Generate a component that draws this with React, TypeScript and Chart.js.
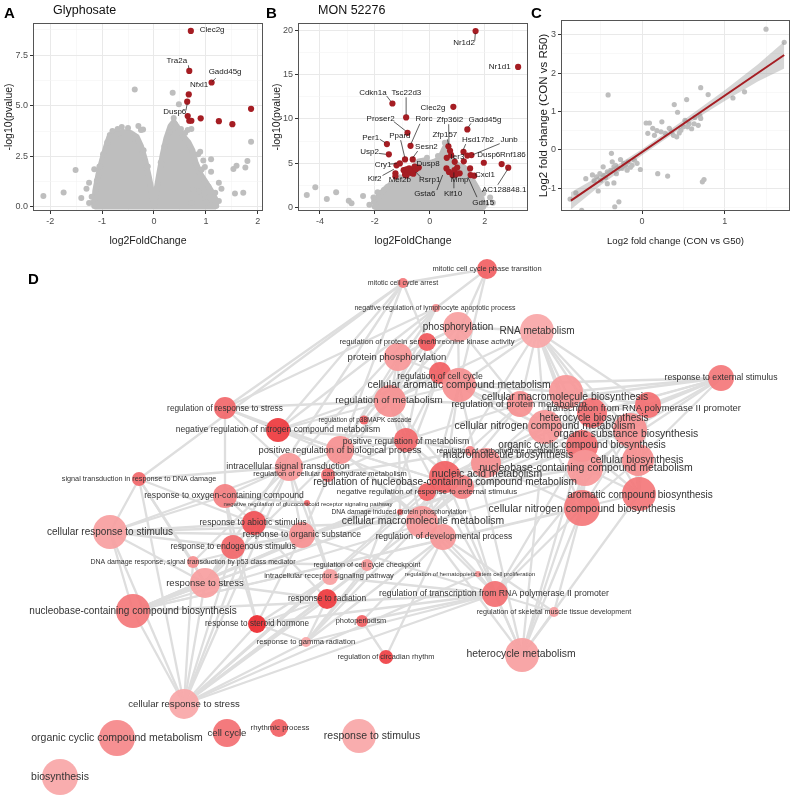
import React, { useEffect, useRef } from "react";
import { Chart, registerables } from "chart.js";

Chart.register(...registerables);

const FONT = "'Liberation Sans', Arial, Helvetica, sans-serif";
const GREY = "#bebebe";
const RED = "#a51d23";

type Pt = [number, number];
type Lbl = [string, number, number, number?, number?, number?, number?];

// ---------------- Panel A: Glyphosate volcano ----------------
const aXMajor = [-2, -1, 0, 1, 2];
const aXMinor = [-1.5, -0.5, 0.5, 1.5];
const aYMajor = [0, 2.5, 5, 7.5];
const aYMinor = [1.25, 3.75, 6.25, 8.75];
const aCloud: Pt[] = [
  [-1.15, 0.05], [-1.13, 0.8], [-1.07, 1.6], [-1.0, 2.3], [-0.93, 2.9], [-0.86, 3.45], [-0.75, 3.6],
  [-0.6, 3.7], [-0.45, 3.65], [-0.33, 3.45], [-0.25, 3.0], [-0.17, 2.3], [-0.1, 1.5], [-0.04, 0.7],
  [0, 0.1], [0.04, 0.7], [0.1, 1.6], [0.17, 2.6], [0.24, 3.4], [0.32, 4.0], [0.38, 4.2], [0.46, 3.9],
  [0.56, 3.5], [0.66, 3.2], [0.74, 2.8], [0.8, 2.2], [0.9, 1.6], [1.0, 1.2], [1.1, 0.8], [1.18, 0.4], [1.2, 0.05],
];
const aGrey: Pt[] = [
  [-0.37, 5.81], [0.36, 5.64], [0.48, 5.07], [-0.21, 3.83], [1.87, 3.22], [0.89, 2.73], [1.8, 2.27],
  [1.59, 2.04], [1.53, 1.88], [1.76, 1.95], [0.98, 1.97], [1.1, 1.74], [1.1, 2.36], [-1.51, 1.83],
  [-1.15, 1.86], [-2.13, 0.54], [-1.74, 0.72], [-1.4, 0.44], [-1.18, 0.21], [0.99, 0.4], [1.08, 0.61],
  [1.56, 0.67], [1.72, 0.7], [1.01, 0.22], [0.72, 0.2], [0.87, 0.78], [0.76, 0.85], [-0.85, 3.55],
  [-0.7, 3.85], [-0.5, 3.9], [-0.4, 3.4], [-0.25, 3.8], [0.38, 4.4], [0.4, 4.1], [0.3, 3.7], [0.65, 3.8],
  [0.72, 3.85], [-1.25, 1.2], [-1.3, 0.9], [1.25, 1.2], [1.3, 0.9], [0.95, 2.3], [-0.3, 4.0],
  [-1.2, 0.5], [-1.1, 1.3], [-1.05, 2.0], [-0.98, 2.6], [-0.9, 3.2], [-0.62, 3.95], [-0.2, 2.8],
  [-0.12, 2.0], [0.13, 2.2], [0.2, 3.0], [0.6, 3.65], [0.85, 2.6], [0.92, 1.85], [1.05, 1.0], [1.18, 0.7],
  [-0.8, 3.75], [0.52, 3.85], [1.25, 0.3], [-1.25, 0.2],
];
const aRed: Pt[] = [
  [0.71, 8.7], [0.68, 6.72], [1.11, 6.15], [0.67, 5.56], [0.64, 5.2], [0.65, 4.49], [0.68, 4.26],
  [0.72, 4.26], [0.9, 4.38], [1.25, 4.24], [1.51, 4.09], [1.87, 4.85],
];
const aLabels: Lbl[] = [
  ["Clec2g", 1.12, 8.76],
  ["Tra2a", 0.44, 7.2, 0.663, 7.0, 0.67, 6.85],
  ["Gadd45g", 1.37, 6.66, 1.19, 6.36, 1.12, 6.2],
  ["Nfxl1", 0.87, 6.02],
  ["Dusp6", 0.4, 4.69, 0.615, 4.76, 0.64, 5.1],
];

// ---------------- Panel B: MON 52276 volcano ----------------
const bXMajor = [-4, -2, 0, 2];
const bXMinor = [-3, -1, 1, 3];
const bYMajor = [0, 5, 10, 15, 20];
const bYMinor = [2.5, 7.5, 12.5, 17.5];
const bCloud: Pt[] = [
  [-2.0, 0.05], [-1.95, 0.8], [-1.8, 1.5], [-1.55, 2.3], [-1.25, 2.8], [-1.0, 3.2], [-0.75, 3.9],
  [-0.55, 4.6], [-0.4, 5.2], [-0.2, 5.3], [0, 5.0], [0.2, 5.2], [0.35, 5.4], [0.5, 6.4], [0.6, 7.0],
  [0.72, 6.4], [0.85, 5.3], [1.0, 4.8], [1.25, 4.5], [1.45, 3.6], [1.6, 2.8], [1.75, 2.0], [1.85, 1.3],
  [1.92, 0.6], [1.95, 0.05],
];
const bGrey: Pt[] = [
  [-4.48, 1.39], [-4.17, 2.26], [-3.75, 0.94], [-3.41, 1.69], [-2.95, 0.75], [-2.85, 0.45], [-2.43, 1.28],
  [-2.03, 0.64], [-1.67, 1.95], [-2.2, 0.3], [2.3, 0.5], [2.2, 1.1], [-0.1, 5.6], [0.55, 7.3],
  [-2.05, 1.1], [-1.9, 1.7], [-1.4, 2.7], [-1.1, 3.4], [2.05, 0.4], [1.95, 1.6], [0.3, 5.8],
];
const bRed: Pt[] = [
  [1.67, 19.95], [3.22, 15.89], [-1.36, 11.75], [-0.86, 10.17], [0.86, 11.37], [1.37, 8.81], [-0.81, 8.43],
  [-1.56, 7.15], [-0.7, 6.96], [0.68, 6.9], [0.74, 6.4], [0.78, 5.9], [0.62, 5.6], [1.23, 6.28], [1.52, 5.91],
  [1.37, 5.85], [-1.49, 5.99], [-0.9, 5.42], [-0.62, 5.42], [0.91, 5.15], [1.24, 5.2], [-1.09, 4.97],
  [-1.21, 4.75], [1.97, 5.04], [2.62, 4.89], [2.86, 4.48], [-1.25, 3.84], [-1.25, 3.5], [-0.95, 4.2],
  [-0.85, 4.3], [-0.8, 4.0], [-0.75, 4.4], [-0.7, 3.9], [-0.65, 4.2], [-0.9, 3.7], [-0.6, 3.8], [-0.55, 4.6],
  [-0.5, 4.3], [-0.85, 3.6], [-0.4, 4.5], [0.61, 4.4], [0.7, 4.0], [0.83, 3.65], [0.9, 4.2], [1.09, 3.84],
  [1.47, 4.4], [1.49, 3.65], [1.62, 3.58], [0.95, 3.7], [1.0, 4.5],
];
const bLabels: Lbl[] = [
  ["Nr1d2", 1.25, 18.64, 1.64, 18.85, 1.66, 19.7],
  ["Nr1d1", 2.55, 15.89],
  ["Cdkn1a", -2.07, 12.95, -1.57, 12.6, -1.42, 12.0],
  ["Tsc22d3", -0.85, 12.95, -0.86, 12.45, -0.86, 10.45],
  ["Clec2g", 0.12, 11.3],
  ["Proser2", -1.79, 10.0, -1.31, 9.7, -0.88, 8.65],
  ["Rorc", -0.21, 10.0, -0.36, 9.45, -0.68, 7.2],
  ["Zfp36l2", 0.73, 9.94, 0.69, 9.4, 0.7, 7.1],
  ["Gadd45g", 2.01, 9.94, 1.5, 9.5, 1.4, 9.05],
  ["Zfp157", 0.55, 8.17, 0.64, 7.7, 0.68, 7.15],
  ["Per1", -2.15, 7.91, -1.82, 7.7, -1.62, 7.3],
  ["Ppard", -1.09, 8.09, -1.06, 7.6, -0.91, 5.65],
  ["Hsd17b2", 1.76, 7.6, 1.31, 7.15, 1.22, 6.5],
  ["Junb", 2.89, 7.6, 2.55, 7.2, 1.57, 5.95],
  ["Sesn2", -0.12, 6.85, -0.44, 6.36, -0.62, 5.6],
  ["Usp2", -2.19, 6.28, -1.85, 6.1, -1.6, 6.0],
  ["Dusp6", 2.15, 5.99],
  ["Rnf186", 3.03, 5.99],
  ["Ier3", 1.01, 5.72],
  ["Dusp8", -0.06, 4.97],
  ["Cry1", -1.7, 4.86, -1.45, 4.89, -1.2, 4.95],
  ["Cxcl1", 2.01, 3.65],
  ["Klf2", -2.01, 3.28, -1.72, 3.6, -1.31, 4.3],
  ["Mef2b", -1.09, 3.08],
  ["Rsrp1", 0, 3.08, -0.33, 3.42, -0.51, 3.99],
  ["Mmp", 1.09, 3.08],
  ["AC128848.1", 2.71, 1.95, 2.48, 2.55, 2.84, 4.3],
  ["Gsta6", -0.18, 1.58, 0.26, 1.95, 0.47, 3.65],
  ["Klf10", 0.85, 1.58, 0.88, 2.15, 0.88, 3.95],
  ["Gdf15", 1.95, 0.56, 1.72, 1.15, 1.39, 3.42],
];

// ---------------- Panel C: fold-change correlation ----------------
const cXMajor = [0, 1];
const cXMinor = [-0.5, 0.5, 1.5];
const cYMajor = [-1, 0, 1, 2, 3];
const cYMinor = [-1.5, -0.5, 0.5, 1.5, 2.5];
const cPoints: Pt[] = [
  [1.5, 3.14], [1.72, 2.8], [1.24, 1.51], [1.1, 1.35], [0.8, 1.44], [0.71, 1.62], [0.54, 1.31], [0.39, 1.18],
  [0.43, 0.98], [-0.41, 1.43], [0.05, 0.7], [0.09, 0.7], [0.07, 0.43], [0.13, 0.56], [0.15, 0.38], [0.18, 0.5],
  [0.24, 0.73], [0.23, 0.47], [0.28, 0.43], [0.33, 0.56], [0.38, 0.38], [0.42, 0.34], [0.47, 0.51], [0.52, 0.77],
  [0.57, 0.68], [0.63, 0.68], [0.7, 0.89], [0.64, 0.84], [0.71, 0.82], [0.68, 0.64], [0.6, 0.55], [0.5, 0.6],
  [0.36, 0.47], [0.45, 0.44], [0.55, 0.6], [0.19, -0.62], [0.31, -0.68], [0.73, -0.83], [0.75, -0.77],
  [-0.02, -0.51], [-0.12, -0.4], [-0.17, -0.31], [-0.22, -0.35], [-0.24, -0.48], [-0.18, -0.53], [-0.28, -0.48],
  [-0.32, -0.4], [-0.36, -0.31], [-0.34, -0.44], [-0.38, -0.53], [-0.31, -0.62], [-0.42, -0.57], [-0.47, -0.44],
  [-0.47, -0.66], [-0.51, -0.62], [-0.5, -0.79], [-0.55, -0.7], [-0.42, -0.88], [-0.34, -0.86], [-0.53, -1.07],
  [-0.68, -0.75], [-0.8, -1.12], [-0.87, -1.28], [-0.73, -1.57], [-0.33, -1.48], [-0.28, -1.35], [-0.37, -0.09],
  [-0.06, -0.35], [-0.09, -0.27], [-0.26, -0.25], [-0.14, -0.45], [-0.2, -0.42], [-0.44, -0.72], [-0.58, -0.8],
  [-0.6, -0.65],
];
const cFit: Pt[] = [[-0.86, -1.32], [1.72, 2.47]];
const cBandX = [-0.86, -0.5, 0, 0.5, 1.0, 1.4, 1.72];
const cBandHi = [-1.1, -0.66, 0.02, 0.77, 1.55, 2.22, 2.82];
const cBandLo = [-1.55, -0.92, -0.14, 0.6, 1.27, 1.78, 2.12];

// ---------------- Panel D: GO term network ----------------
// [key, term, layoutX, layoutY, nodeSize, significance(0-1), labelX, labelY, textSize]
type Term = [string, string, number, number, number, number, number, number, number];
const goTerms: Term[] = [
  ["mcpt", "mitotic cell cycle phase transition", 487, 269, 10, 0.6, 487, 269, 7.5],
  ["mcca", "mitotic cell cycle arrest", 403, 283, 5, 0.45, 403, 283, 7],
  ["nrlap", "negative regulation of lymphocyte apoptotic process", 436, 308, 4, 0.3, 435, 308, 7],
  ["phos", "phosphorylation", 458, 327, 15, 0.2, 458, 327, 10],
  ["rna", "RNA metabolism", 537, 331, 17, 0.15, 537, 331, 10],
  ["rpsk", "regulation of protein serine/threonine kinase activity", 427, 342, 9, 0.65, 427, 342, 7.7],
  ["pphos", "protein phosphorylation", 398, 357, 14, 0.25, 397, 357, 9.5],
  ["rcc", "regulation of cell cycle", 440, 373, 11, 0.6, 440, 377, 8.7],
  ["camet", "cellular aromatic compound metabolism", 459, 385, 17, 0.3, 459, 385, 10.4],
  ["rmet", "regulation of metabolism", 390, 401, 16, 0.3, 389, 400, 9.9],
  ["rpm", "regulation of protein metabolism", 520, 404, 13, 0.3, 519, 404, 9.5],
  ["cmb", "cellular macromolecule biosynthesis", 566, 392, 17, 0.25, 565, 397, 10.4],
  ["res", "response to external stimulus", 721, 378, 13, 0.45, 721, 378, 8.7],
  ["trna", "transcription from RNA polymerase II promoter", 648, 405, 13, 0.5, 644, 408, 9.4],
  ["hb", "heterocycle biosynthesis", 592, 413, 15, 0.5, 594, 418, 10],
  ["cncm", "cellular nitrogen compound metabolism", 545, 427, 17, 0.25, 545, 426, 10.4],
  ["osb", "organic substance biosynthesis", 630, 430, 17, 0.3, 626, 434, 10.4],
  ["occb", "organic cyclic compound biosynthesis", 582, 446, 16, 0.5, 582, 445, 10],
  ["rrs", "regulation of response to stress", 225, 408, 11, 0.55, 225, 409, 8.3],
  ["nrncm", "negative regulation of nitrogen compound metabolism", 278, 430, 12, 0.85, 278, 430, 8.6],
  ["p38", "regulation of p38MAPK cascade", 364, 420, 4.5, 0.6, 365, 420, 6.5],
  ["prm", "positive regulation of metabolism", 406, 440, 12, 0.55, 406, 442, 8.7],
  ["prbp", "positive regulation of biological process", 340, 450, 14, 0.3, 340, 450, 9.4],
  ["mb", "macromolecule biosynthesis", 486, 463, 15, 0.3, 508, 455, 10.4],
  ["rcm", "regulation of carbohydrate metabolism", 470, 451, 5, 0.4, 501, 451, 7.6],
  ["cb", "cellular biosynthesis", 638, 460, 16, 0.3, 637, 460, 10.4],
  ["ncm2", "nucleobase-containing compound metabolism", 585, 468, 18, 0.25, 586, 468, 10.5],
  ["nam", "nucleic acid metabolism", 445, 477, 16, 0.6, 487, 474, 10.4],
  ["rncm", "regulation of nucleobase-containing compound metabolism", 462, 487, 12, 0.4, 445, 482, 10.1],
  ["icst", "intracellular signal transduction", 289, 467, 14, 0.25, 288, 467, 9],
  ["rccm", "regulation of cellular carbohydrate metabolism", 328, 475, 7, 0.5, 330, 474, 7.5],
  ["stdd", "signal transduction in response to DNA damage", 139, 479, 7, 0.55, 139, 479, 7.3],
  ["rocc", "response to oxygen-containing compound", 225, 496, 12, 0.4, 224, 496, 8.6],
  ["nrgr", "negative regulation of glucocorticoid receptor signaling pathway", 307, 503, 3, 0.6, 308, 504, 6],
  ["nrres", "negative regulation of response to external stimulus", 427, 492, 9, 0.6, 427, 492, 7.9],
  ["ddpp", "DNA damage induced protein phosphorylation", 400, 512, 3, 0.6, 399, 512, 6.6],
  ["cmm", "cellular macromolecule metabolism", 422, 522, 16, 0.25, 423, 521, 10.4],
  ["rdp", "regulation of developmental process", 443, 537, 13, 0.25, 444, 537, 8.5],
  ["ras", "response to abiotic stimulus", 254, 523, 12, 0.7, 253, 523, 8.7],
  ["ros", "response to organic substance", 302, 535, 13, 0.3, 302, 535, 8.7],
  ["resd", "response to endogenous stimulus", 233, 547, 12, 0.55, 233, 547, 8.4],
  ["crs", "cellular response to stimulus", 110, 532, 17, 0.2, 110, 532, 10],
  ["p53", "DNA damage response, signal transduction by p53 class mediator", 193, 562, 6, 0.3, 193, 562, 7],
  ["rccc", "regulation of cell cycle checkpoint", 367, 565, 6, 0.25, 367, 565, 7.2],
  ["rhsc", "regulation of hematopoietic stem cell proliferation", 478, 574, 3, 0.3, 470, 574, 6],
  ["irsp", "intracellular receptor signaling pathway", 330, 577, 8, 0.2, 329, 576, 7.5],
  ["rts", "response to stress", 205, 583, 15, 0.2, 205, 583, 9.5],
  ["rtrna", "regulation of transcription from RNA polymerase II promoter", 495, 594, 13, 0.5, 494, 594, 8.7],
  ["rrad", "response to radiation", 327, 599, 10, 0.85, 327, 599, 8.4],
  ["ncb", "nucleobase-containing compound biosynthesis", 133, 611, 17, 0.45, 133, 611, 10],
  ["rsmt", "regulation of skeletal muscle tissue development", 554, 612, 5, 0.2, 554, 612, 7.2],
  ["photo", "photoperiodism", 362, 621, 6, 0.6, 361, 621, 7.4],
  ["rsh", "response to steroid hormone", 257, 624, 9, 0.95, 257, 624, 8.2],
  ["rgr", "response to gamma radiation", 306, 642, 5, 0.15, 306, 642, 7.6],
  ["rcr", "regulation of circadian rhythm", 386, 657, 7, 0.8, 386, 657, 7.4],
  ["hm", "heterocycle metabolism", 522, 655, 17, 0.2, 521, 654, 10.4],
  ["acb", "aromatic compound biosynthesis", 639, 494, 17, 0.45, 640, 495, 10],
  ["cncb", "cellular nitrogen compound biosynthesis", 582, 508, 18, 0.45, 582, 509, 10.5],
  ["crst", "cellular response to stress", 184, 704, 15, 0.15, 184, 704, 9.6],
  ["occm", "organic cyclic compound metabolism", 117, 738, 18, 0.35, 117, 738, 10.5],
  ["cc", "cell cycle", 227, 733, 14, 0.5, 227, 733, 9.6],
  ["rp", "rhythmic process", 279, 728, 9, 0.6, 280, 728, 7.8],
  ["rs", "response to stimulus", 359, 736, 17, 0.15, 372, 736, 10.5],
  ["bio", "biosynthesis", 60, 777, 18, 0.15, 60, 777, 10.5],
];
const goLinks: string[] = [
  "mcpt mcca", "mcpt rcc", "mcpt camet", "mcpt nrlap",
  "mcca rrs", "mcca nrncm", "mcca prbp", "mcca rts", "mcca rcc", "mcca stdd",
  "nrlap rrs", "nrlap nrncm", "nrlap prbp", "nrlap rmet", "nrlap icst",
  "phos pphos", "phos rpsk", "phos rmet", "phos camet", "phos rpm", "phos rna",
  "rpsk pphos", "rpsk rcc", "rpsk prm", "rpsk p38", "rpsk rmet",
  "pphos rmet", "pphos rpm", "pphos ddpp", "pphos prbp",
  "rcc rmet", "rcc prm", "rcc rccc", "rcc nrncm", "rcc camet",
  "rmet camet", "rmet rpm", "rmet prm", "rmet nrncm", "rmet prbp", "rmet rncm", "rmet rccm", "rmet cmm", "rmet rrs", "rmet rtrna",
  "rna cmb", "rna cncm", "rna hb", "rna osb", "rna occb", "rna ncm2", "rna rpm", "rna camet", "rna nam", "rna trna", "rna cb", "rna rmet",
  "res cmb", "res trna", "res hb", "res osb", "res cncm", "res camet", "res nrres", "res cb", "res ncm2", "res rpm", "res rncm",
  "camet cncm", "camet cmb", "camet nam", "camet ncm2", "camet occb", "camet hm", "camet cmm",
  "rpm cmm", "rpm prm", "rpm cncm", "rpm ddpp",
  "cmb cncm", "cmb hb", "cmb osb", "cmb mb", "cmb cb", "cmb trna", "cmb cncb",
  "trna hb", "trna osb", "trna rtrna", "trna cncb", "trna acb", "trna cb",
  "hb osb", "hb occb", "hb cb", "hb acb", "hb cncb",
  "cncm nam", "cncm ncm2", "cncm occb", "cncm cmm", "cncm cncb", "cncm hm",
  "osb cb", "osb occb", "osb acb", "osb mb",
  "occb acb", "occb cncb", "occb ncm2",
  "mb cmm", "mb nam", "mb cncb",
  "cb acb", "cb cncb", "cb ncm2",
  "ncm2 nam", "ncm2 rncm", "ncm2 hm", "ncm2 acb",
  "nam rncm", "nam cmm", "nam hm",
  "rncm rtrna", "rncm cmm", "rncm prm", "rncm nrncm",
  "cmm rdp", "cmm rtrna", "cmm prbp",
  "prbp prm", "prbp rrs", "prbp icst", "prbp rdp", "prbp ros", "prbp rts",
  "nrncm rrs", "nrncm prm", "nrncm rncm",
  "icst rrs", "icst stdd", "icst rocc", "icst ras", "icst crs", "icst ros", "icst p53", "icst irsp",
  "rccm rcm", "rccm prm", "rcm prm", "rcm mb",
  "stdd crs", "stdd p53", "stdd rts", "stdd ras", "stdd crst",
  "rocc ras", "rocc resd", "rocc ros", "rocc crs", "rocc rrs", "rocc rsh",
  "nrgr irsp", "nrgr rocc", "nrres rrs", "nrres rdp", "ddpp p53", "ddpp crst",
  "ras resd", "ras rrad", "ras crs", "ras rts", "ras ros",
  "ros resd", "ros rsh", "ros crs", "ros rtrna",
  "resd rsh", "resd crs", "resd rts",
  "crs rts", "crs ncb", "crs crst", "crs cmm",
  "p53 rts", "p53 crst", "p53 rccc", "rccc crst", "rccc rgr",
  "rhsc rtrna", "rhsc rdp", "rhsc crst",
  "irsp rsh", "irsp crst", "irsp rtrna",
  "rts crst", "rts rrad", "rts ncb",
  "rtrna hm", "rtrna rsmt", "rtrna ncb", "rtrna cncb", "rtrna occb", "rtrna rsh",
  "rrad rgr", "rrad crst", "rrad rsh",
  "ncb cncb", "ncb occb", "ncb hb", "ncb cb", "ncb acb", "ncb nam", "ncb mb", "ncb osb",
  "rsmt rdp", "rsmt cncb", "photo rcr", "photo rdp", "photo rtrna",
  "rsh crst", "rsh rgr", "rgr crst", "rgr cmm", "rgr rtrna", "rgr rdp", "rgr nam", "rcr rdp",
  "hm cncb", "hm acb", "hm occb", "hm rsmt", "hm cmm",
  "crst cmm", "crst ras", "crst resd", "crst icst", "crst ncb", "crst rtrna", "crst nam",
];

// ---------------- helpers ----------------
const xy = (p: Pt[]) => p.map(([x, y]) => ({ x, y }));

function axisOpts(pos: "left" | "bottom", min: number, max: number, majors: number[], minors: number[],
  fmt: (v: number) => string, title: string, size: number, titleSize: number): any {
  const all = [...majors, ...minors].sort((a, b) => a - b);
  const isMajor = (v: any) => majors.indexOf(v) >= 0;
  return {
    type: "linear", position: pos, min, max,
    afterBuildTicks: (s: any) => { s.ticks = all.map((v) => ({ value: v })); },
    afterFit: (s: any) => { if (pos === "left") s.width = size; else s.height = size; },
    ticks: {
      autoSkip: false, maxRotation: 0, minRotation: 0, padding: 2, color: "#4d4d4d",
      font: { family: FONT, size: 9 },
      callback: (v: any) => (isMajor(v) ? fmt(v) : ""),
    },
    grid: {
      drawTicks: true, tickLength: 3, tickWidth: 1,
      color: (c: any) => (isMajor(c.tick?.value) ? "#e9e9e9" : "#f4f4f4"),
      lineWidth: (c: any) => (isMajor(c.tick?.value) ? 1 : 0.6),
      tickColor: (c: any) => (isMajor(c.tick?.value) ? "#333333" : "rgba(0,0,0,0)"),
    },
    border: { display: false },
    title: { display: true, text: title, color: "#1a1a1a", font: { family: FONT, size: titleSize }, padding: { top: 3, bottom: 3 } },
  };
}

const framePlugin = {
  id: "frame",
  afterDatasetsDraw(chart: any) {
    const { ctx, chartArea: a } = chart;
    ctx.save();
    ctx.strokeStyle = "#555555";
    ctx.lineWidth = 1;
    ctx.strokeRect(a.left + 0.5, a.top + 0.5, a.right - a.left - 1, a.bottom - a.top - 1);
    ctx.restore();
  },
};

function geneLabelPlugin(labels: Lbl[]) {
  return {
    id: "geneLabels",
    afterDatasetsDraw(chart: any) {
      const { ctx } = chart;
      const x = chart.scales.x, y = chart.scales.y;
      ctx.save();
      ctx.font = `8px ${FONT}`;
      ctx.fillStyle = "#1a1a1a";
      ctx.strokeStyle = "#1a1a1a";
      ctx.lineWidth = 0.7;
      ctx.textAlign = "center";
      ctx.textBaseline = "middle";
      for (const l of labels) {
        if (l.length > 3) {
          ctx.beginPath();
          ctx.moveTo(x.getPixelForValue(l[3]), y.getPixelForValue(l[4]));
          ctx.lineTo(x.getPixelForValue(l[5]), y.getPixelForValue(l[6]));
          ctx.stroke();
        }
        ctx.fillText(l[0], x.getPixelForValue(l[1]), y.getPixelForValue(l[2]));
      }
      ctx.restore();
    },
  };
}

const baseOptions = (padTop: number, padRight: number) => ({
  animation: false as const,
  responsive: false,
  devicePixelRatio: 1,
  events: [] as any[],
  layout: { autoPadding: false, padding: { top: padTop, right: padRight, left: 0, bottom: 0 } },
  plugins: { legend: { display: false }, tooltip: { enabled: false }, title: { display: false } },
});

function volcano(cloud: Pt[], grey: Pt[], red: Pt[], labels: Lbl[], xr: [number, number], yr: [number, number],
  xMaj: number[], xMin: number[], yMaj: number[], yMin: number[], yFmt: (v: number) => string, yAxisW: number, padRight: number) {
  return () => ({
    type: "scatter" as const,
    data: {
      datasets: [
        { type: "scatter", data: xy(red), backgroundColor: RED, borderWidth: 0, pointRadius: 3.1, order: 0 },
        { type: "scatter", data: xy(grey), backgroundColor: GREY, borderWidth: 0, pointRadius: 3, order: 1 },
        {
          type: "line", data: xy(cloud), borderColor: GREY, backgroundColor: GREY, borderWidth: 6,
          borderJoinStyle: "round", borderCapStyle: "round", pointRadius: 0, tension: 0,
          fill: { value: yr[0] > -0.3 ? -0.12 : -0.3 }, order: 2,
        },
      ],
    },
    options: {
      ...baseOptions(23, padRight),
      scales: {
        x: axisOpts("bottom", xr[0], xr[1], xMaj, xMin, (v) => String(v), "log2FoldChange", 39, 10.5),
        y: axisOpts("left", yr[0], yr[1], yMaj, yMin, yFmt, "-log10(pvalue)", yAxisW, 10.5),
      },
    },
    plugins: [framePlugin, geneLabelPlugin(labels)],
  } as any);
}

const makeA = volcano(aCloud, aGrey, aRed, aLabels, [-2.33, 2.1], [-0.2, 9.09], aXMajor, aXMinor, aYMajor, aYMinor,
  (v) => v.toFixed(1), 33, 5);
const makeB = volcano(bCloud, bGrey, bRed, bLabels, [-4.8, 3.58], [-0.42, 20.86], bXMajor, bXMinor, bYMajor, bYMinor,
  (v) => String(v), 30, 6);

const makeC = () => ({
  type: "scatter",
  data: {
    datasets: [
      { type: "line", data: xy(cFit), borderColor: RED, borderWidth: 2, pointRadius: 0, fill: false, order: 0 },
      { type: "line", data: cBandX.map((x, i) => ({ x, y: cBandHi[i] })), borderWidth: 0, borderColor: "rgba(0,0,0,0)", pointRadius: 0, fill: false, order: 1 },
      { type: "line", data: cBandX.map((x, i) => ({ x, y: cBandLo[i] })), borderWidth: 0, borderColor: "rgba(0,0,0,0)", pointRadius: 0, fill: "-1", backgroundColor: "rgba(153,153,153,0.4)", order: 1 },
      { type: "scatter", data: xy(cPoints), backgroundColor: GREY, borderWidth: 0, pointRadius: 2.6, order: 2 },
    ],
  },
  options: {
    ...baseOptions(20, 10),
    scales: {
      x: axisOpts("bottom", -0.98, 1.79, cXMajor, cXMinor, (v) => String(v), "Log2 fold change (CON vs G50)", 39, 9.6),
      y: axisOpts("left", -1.59, 3.38, cYMajor, cYMinor, (v) => String(v), "Log2 fold change (CON vs R50)", 27, 11.5),
    },
  },
  plugins: [framePlugin],
} as any);

function termColor(s: number) {
  const r = Math.round(250 - 14 * s), g = Math.round(190 - 158 * s), b = Math.round(190 - 152 * s);
  return `rgba(${r},${g},${b},0.92)`;
}

const termLabelPlugin = {
  id: "termLabels",
  afterDatasetsDraw(chart: any) {
    const { ctx } = chart;
    const x = chart.scales.x, y = chart.scales.y;
    ctx.save();
    ctx.fillStyle = "#333333";
    ctx.textAlign = "center";
    ctx.textBaseline = "middle";
    for (const t of goTerms) {
      ctx.font = `${t[8]}px ${FONT}`;
      ctx.fillText(t[1], x.getPixelForValue(t[6]), y.getPixelForValue(t[7]));
    }
    ctx.restore();
  },
};

const makeD = () => {
  const idx: Record<string, Term> = {};
  goTerms.forEach((t) => { idx[t[0]] = t; });
  const edges = goLinks.map((s) => {
    const [a, b] = s.split(" ");
    const A = idx[a], B = idx[b];
    return {
      type: "line", data: [{ x: A[2], y: A[3] }, { x: B[2], y: B[3] }],
      borderColor: "#dedede", borderWidth: 2.3, pointRadius: 0, fill: false, order: 1,
    };
  });
  return {
    type: "bubble",
    data: {
      datasets: [
        {
          type: "bubble", data: goTerms.map((t) => ({ x: t[2], y: t[3], r: t[4] })),
          backgroundColor: goTerms.map((t) => termColor(t[5])), borderWidth: 0, borderColor: "rgba(0,0,0,0)", order: 0,
        },
        ...edges,
      ],
    },
    options: {
      ...baseOptions(0, 0),
      scales: {
        x: { type: "linear", display: false, min: 0, max: 800 },
        y: { type: "linear", display: false, min: 250, max: 799, reverse: true },
      },
    },
    plugins: [termLabelPlugin],
  } as any;
};

function ChartCanvas({ make, left, top, width, height }: { make: () => any; left: number; top: number; width: number; height: number }) {
  const ref = useRef<HTMLCanvasElement | null>(null);
  useEffect(() => {
    if (!ref.current) return;
    const chart = new Chart(ref.current, make());
    return () => chart.destroy();
  }, [make]);
  return <canvas ref={ref} width={width} height={height} style={{ position: "absolute", left, top, width, height }} />;
}

const letter = (t: string, left: number, top: number) => (
  <div style={{ position: "absolute", left, top, fontFamily: FONT, fontWeight: "bold", fontSize: 15, lineHeight: "15px", color: "#000" }}>{t}</div>
);
const heading = (t: string, left: number, top: number) => (
  <div style={{ position: "absolute", left, top, fontFamily: FONT, fontSize: 12.5, lineHeight: "13px", color: "#111" }}>{t}</div>
);

export default function App() {
  return (
    <div style={{ position: "absolute", left: 0, top: 0, width: 800, height: 799, background: "#fff", overflow: "hidden" }}>
      <ChartCanvas make={makeA} left={0} top={0} width={268} height={250} />
      <ChartCanvas make={makeB} left={268} top={0} width={266} height={250} />
      <ChartCanvas make={makeC} left={534} top={0} width={266} height={250} />
      <ChartCanvas make={makeD} left={0} top={250} width={800} height={549} />
      {letter("A", 4, 5)}
      {heading("Glyphosate", 53, 4)}
      {letter("B", 266, 5)}
      {heading("MON 52276", 318, 4)}
      {letter("C", 531, 5)}
      {letter("D", 28, 271)}
    </div>
  );
}
